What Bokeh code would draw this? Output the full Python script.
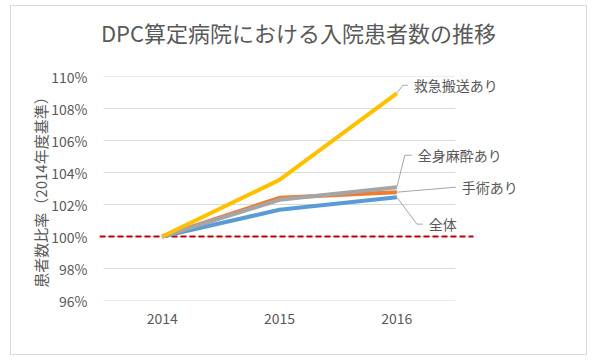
from bokeh.plotting import figure
from bokeh.layouts import column
from bokeh.models import Range1d, FixedTicker, PrintfTickFormatter, Label
from bokeh.embed import file_html
from bokeh.resources import INLINE

# ---- data ----
years = ["2014", "2015", "2016"]
series_names = ["全体", "手術あり", "全身麻酔あり", "救急搬送あり"]
zentai = [100.0, 101.67, 102.46]
shujutsu = [100.0, 102.42, 102.77]
masui = [100.0, 102.29, 103.08]
kyukyu = [100.0, 103.54, 108.95]
y_ticks = [96, 98, 100, 102, 104, 106, 108, 110]
baseline = 100

title_text = "DPC算定病院における入院患者数の推移"
y_label = "患者数比率（2014年度基準）"

colors = ["#5B9BD5", "#ED7D31", "#A5A5A5", "#FFC000"]
values = [zentai, shujutsu, masui, kyukyu]

JP = "Noto Sans CJK JP"
TXT = "#595959"

# layout constants (px)
W = 575
TH = 60                       # title strip height
MB_L, MB_T, MB_B = 88, 10, 54
PX = 352 / 3                  # px per category band
FW = 480                      # frame width (plot area + room for labels)
FH = 224                      # plot area height
H = MB_T + FH + MB_B

x0 = -0.5 - 4 / PX
xr = Range1d(x0, x0 + FW / PX)
yr = Range1d(y_ticks[0], y_ticks[-1])
PY = FH / (yr.end - yr.start)

# ---- title strip (frame aligned with the chart's frame) ----
tf = figure(width=W, height=TH, x_range=xr, y_range=Range1d(0, TH),
            x_axis_type=None, y_axis_type=None,
            output_backend="svg", toolbar_location=None,
            min_border=0, min_border_left=MB_L, min_border_right=W - MB_L - FW)
tf.grid.visible = False
tf.outline_line_color = None
tf.add_layout(Label(x=x0 + 199 / PX, y=TH / 2 + 5, text=title_text,
                    text_font=JP, text_font_size="22px", text_color=TXT,
                    text_align="center", text_baseline="middle"))

# ---- chart ----
p = figure(width=W, height=H, x_range=xr, y_range=yr,
           output_backend="svg", toolbar_location=None,
           min_border_left=MB_L, min_border_right=W - MB_L - FW,
           min_border_top=MB_T, min_border_bottom=MB_B)
p.outline_line_color = None
p.background_fill_color = "white"
p.border_fill_color = "white"

xs = list(range(len(years)))
p.xaxis.ticker = FixedTicker(ticks=xs)
p.xaxis.major_label_overrides = {i: y for i, y in enumerate(years)}
p.yaxis.ticker = FixedTicker(ticks=y_ticks)
p.yaxis.formatter = PrintfTickFormatter(format="%d%%")
for ax in (p.xaxis, p.yaxis):
    ax.axis_line_color = None
    ax.major_tick_line_color = None
    ax.minor_tick_line_color = None
    ax.major_label_text_font = JP
    ax.major_label_text_font_size = "14px"
    ax.major_label_text_color = TXT
p.yaxis.major_label_standoff = 6
p.xaxis.major_label_standoff = 6
p.yaxis.axis_label = y_label
p.yaxis.axis_label_text_font = JP
p.yaxis.axis_label_text_font_size = "15px"
p.yaxis.axis_label_text_font_style = "normal"
p.yaxis.axis_label_text_color = TXT
p.yaxis.axis_label_standoff = -3

p.xgrid.grid_line_color = None
p.ygrid.grid_line_color = None

# horizontal gridlines over the category bands only
band_start, band_end = -0.5, len(years) - 0.5
p.segment(x0=[band_start] * len(y_ticks), y0=y_ticks,
          x1=[band_end] * len(y_ticks), y1=y_ticks,
          line_color="#d9d9d9", line_width=1)

# baseline (extends slightly beyond plot area like the original)
p.segment(x0=[x0], y0=[baseline], x1=[band_end + 18 / PX], y1=[baseline],
          line_color="#C00000", line_width=2, line_dash="6 3")

for v, c in zip(values, colors):
    p.line(xs, v, line_color=c, line_width=4)

# leader lines and labels: offsets in px from the series' last point
last = xs[-1]
leaders = {
    "全体": [(0, 0), (20, -27), (26, -27)],
    "手術あり": [(0, 0), (59, 5)],
    "全身麻酔あり": [(0, 0), (8, 32), (15, 32)],
    "救急搬送あり": [(0, 0), (6, 8), (11, 8)],
}
for name, v in zip(series_names, values):
    pts = leaders[name]
    lx = [last + dx / PX for dx, dy in pts]
    ly = [v[-1] + dy / PY for dx, dy in pts]
    p.line(lx, ly, line_color="#a6a6a6", line_width=1)
    p.add_layout(Label(x=lx[-1] + 6 / PX, y=ly[-1], text=name,
                       text_font=JP, text_font_size="14px",
                       text_color=TXT, text_baseline="middle"))

layout = column(tf, p, spacing=0)
layout.styles = {"border": "1px solid #d9d9d9", "margin-left": "10px",
                 "margin-top": "5px"}

open("out.html", "w").write(file_html(layout, INLINE))
